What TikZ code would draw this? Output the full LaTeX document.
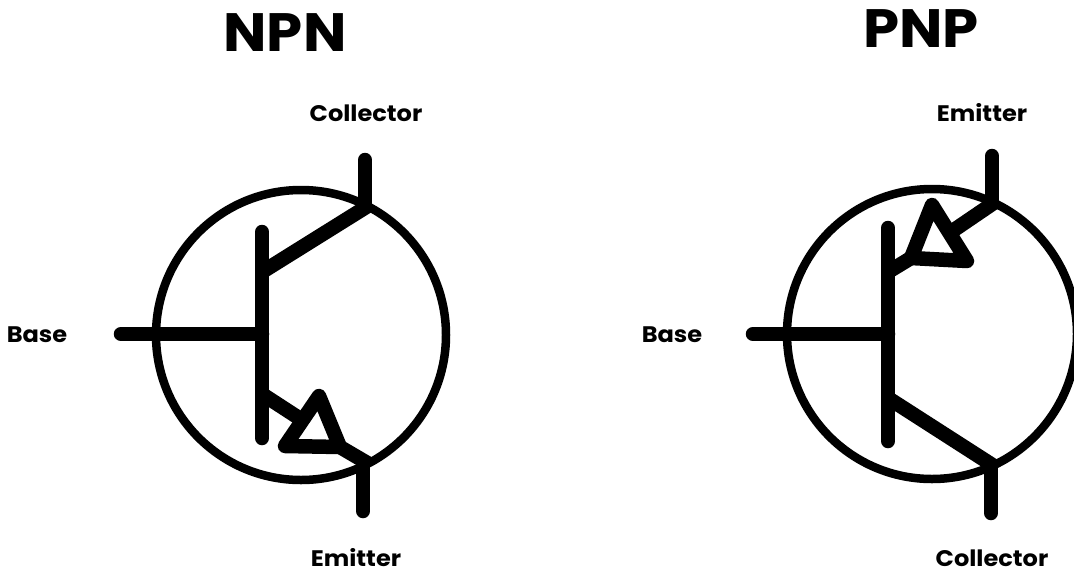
\documentclass[tikz,border=0pt]{standalone}
\usepackage{fontspec}
\setmainfont[FakeStretch=1.07]{Poppins}
\begin{document}
\begin{tikzpicture}[x=1pt,y=-1pt,
  wire/.style={line width=14.5pt,line cap=round,line join=round},
  stub/.style={line width=14.5pt,line cap=butt},
  ring/.style={line width=8.5pt},
  big/.style={font=\bfseries\fontsize{54}{60}\selectfont,inner sep=0pt,anchor=center},
  lab/.style={font=\bfseries\fontsize{22.5}{24}\selectfont,inner sep=0pt,anchor=center}]
\useasboundingbox (0,0) rectangle (1074,571);
% NPN
\coordinate (nc) at (301,335);
\coordinate (nb1) at (121,334); \coordinate (nb2) at (262,334);
\coordinate (nt) at (262,232); \coordinate (nu) at (262,438);
\coordinate (nj1) at (262,272); \coordinate (nj2) at (371,204);
\coordinate (nj3) at (262,394); \coordinate (nj4) at (369,464);
\coordinate (nl1) at (365,160); \coordinate (nl2) at (365,205);
\coordinate (nl3) at (363,463); \coordinate (nl4) at (363,511);
\coordinate (na) at (319,396); \coordinate (nd) at (285,446); \coordinate (ne) at (340,447);
\coordinate (nm) at (302,420);
\draw[ring] (nc) circle (145);
\draw[wire] (nb1) -- (nb2);
\draw[wire] (nt) -- (nu);
\draw[stub] (nj1) -- (nj2);
\draw[stub] (nj3) -- (nm);
\draw[stub] (ne) -- (nj4);
\draw[wire] (nl1) -- (nl2);
\draw[wire] (nl3) -- (nl4);
\draw[wire] (na) -- (nd) -- (ne) -- cycle;
% PNP
\coordinate (pc) at (932,334);
\coordinate (pb1) at (753,334); \coordinate (pb2) at (888,334);
\coordinate (pt) at (888,228); \coordinate (pu) at (888,441);
\coordinate (pj1) at (888,272); \coordinate (pj2) at (998,200);
\coordinate (pj3) at (888,398); \coordinate (pj4) at (997,468);
\coordinate (pl1) at (992,156); \coordinate (pl2) at (992,201);
\coordinate (pl3) at (991,467); \coordinate (pl4) at (991,513);
\coordinate (pa) at (932,205); \coordinate (pd) at (911,258); \coordinate (pe) at (967,261);
\coordinate (pm) at (951,232);
\draw[ring] (pc) circle (145);
\draw[wire] (pb1) -- (pb2);
\draw[wire] (pt) -- (pu);
\draw[stub] (pj1) -- (pd);
\draw[stub] (pm) -- (pj2);
\draw[stub] (pj3) -- (pj4);
\draw[wire] (pl1) -- (pl2);
\draw[wire] (pl3) -- (pl4);
\draw[wire] (pa) -- (pd) -- (pe) -- cycle;
% Labels
\node[big] (tn) at (285,33) {NPN};
\node[big] (tp) at (921,29) {PNP};
\node[lab] (c1) at (366,113) {Collector};
\node[lab] (b1) at (37,335) {Base};
\node[lab] (e1) at (356,558) {Emitter};
\node[lab] (e2) at (982,113) {Emitter};
\node[lab] (b2) at (672,335) {Base};
\node[lab] (c2) at (992,558) {Collector};
\end{tikzpicture}
\end{document}
